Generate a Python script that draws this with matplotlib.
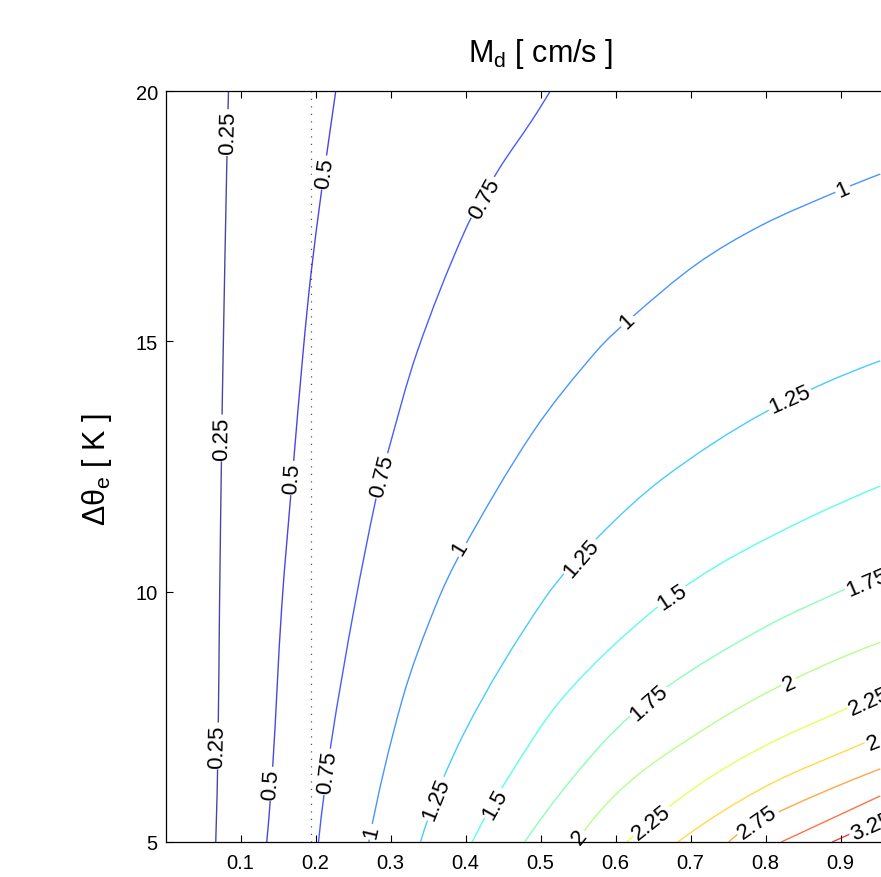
import numpy as np
import matplotlib
matplotlib.use("Agg")
import matplotlib.pyplot as plt
from matplotlib import cm
from matplotlib.colors import Normalize
from matplotlib.path import Path
from matplotlib.patches import PathPatch

plt.rcParams['font.family'] = ['Liberation Sans', 'DejaVu Sans']
plt.rcParams['mathtext.fontset'] = 'custom'
plt.rcParams['mathtext.rm'] = 'Liberation Sans'

# ── contour lines of M_d: (x, dtheta_e) per level ─────────────────────────
levels = [0.25, 0.5, 0.75, 1.0, 1.25, 1.5, 1.75, 2.0, 2.25, 2.5, 2.75, 3.0, 3.25]

x_025 = [0.067, 0.070, 0.072, 0.075, 0.077, 0.082, 0.084]
t_025 = [5.0, 6.92, 9.67, 13.07, 14.87, 18.74, 20.0]
x_050 = [0.135, 0.143, 0.155, 0.169, 0.184, 0.194, 0.208, 0.215, 0.227]
t_050 = [5.0, 6.52, 9.70, 12.27, 14.87, 16.35, 18.0, 18.74, 20.0]
x_075 = [0.204, 0.221, 0.252, 0.281, 0.297, 0.336, 0.399, 0.443, 0.488, 0.513]
t_075 = [5.0, 6.99, 9.70, 11.88, 12.81, 14.81, 17.20, 18.40, 19.40, 20.0]
x_100 = [0.271, 0.316, 0.360, 0.395, 0.491, 0.575, 0.621, 0.709, 0.795,
         0.903, 0.953]
t_100 = [5.0, 7.86, 9.71, 10.81, 13.21, 14.81, 15.47, 16.55, 17.32,
         18.04, 18.34]
x_125 = [0.340, 0.399, 0.505, 0.576, 0.665, 0.799, 0.953]
t_125 = [5.0, 7.20, 9.85, 11.08, 12.28, 13.58, 14.61]
x_150 = [0.409, 0.456, 0.532, 0.655, 0.765, 0.953]
t_150 = [5.0, 6.26, 7.92, 9.68, 10.77, 12.11]
x_175 = [0.479, 0.582, 0.665, 0.799, 0.912, 0.953]
t_175 = [5.0, 6.96, 8.06, 9.29, 10.09, 10.35]
x_200 = [0.548, 0.599, 0.665, 0.799, 0.953]
t_200 = [5.0, 5.93, 6.73, 7.96, 8.99]
x_225 = [0.615, 0.710, 0.799, 0.916, 0.953]
t_225 = [5.0, 6.13, 6.92, 7.72, 7.97]
x_250 = [0.683, 0.799, 0.935, 0.953]
t_250 = [5.0, 6.10, 7.00, 7.11]
x_275 = [0.751, 0.789, 0.953]
t_275 = [5.0, 5.40, 6.46]
x_300 = [0.821, 0.953]
t_300 = [5.0, 5.92]
x_325 = [0.889, 0.953]
t_325 = [5.0, 5.43]

lines_x = [x_025, x_050, x_075, x_100, x_125, x_150, x_175,
           x_200, x_225, x_250, x_275, x_300, x_325]
lines_t = [t_025, t_050, t_075, t_100, t_125, t_150, t_175,
           t_200, t_225, t_250, t_275, t_300, t_325]

# inline labels: (level index, x, dtheta_e)
label_lev = [0, 0, 0, 1, 1, 1, 2, 2, 2, 3, 3, 3, 3, 4, 4, 4, 5, 5, 6, 6,
             7, 7, 8, 8, 9, 10, 12]
label_x = [0.083, 0.075, 0.069, 0.212, 0.169, 0.141, 0.425, 0.289, 0.216,
           0.275, 0.392, 0.615, 0.903, 0.361, 0.555, 0.832, 0.439, 0.675,
           0.645, 0.936, 0.552, 0.832, 0.648, 0.939, 0.955, 0.789, 0.941]
label_t = [19.17, 13.07, 6.92, 18.37, 12.27, 6.16, 17.86, 12.31, 6.40,
           5.20, 10.87, 15.41, 18.04, 5.86, 10.67, 13.85, 5.76, 9.90,
           7.78, 10.19, 5.10, 8.16, 5.40, 7.82, 7.06, 5.40, 5.32]

x_ticks = [0.1, 0.2, 0.3, 0.4, 0.5, 0.6, 0.7, 0.8, 0.9, 1.0]
x_ticklabels = ["0.1", "0.2", "0.3", "0.4", "0.5", "0.6", "0.7", "0.8", "0.9", "1"]
y_ticks = [5, 10, 15, 20]
x_marker = 0.194   # dotted reference line


def fmt(v):
    return f"{v:g}"


fig = plt.figure(figsize=(8.81, 8.78), dpi=100)
fig.patch.set_facecolor("white")
ax = fig.add_axes([165.5 / 881, 35 / 878, 750 / 881, 751 / 878])
ax.set_xlim(0, 1)
ax.set_ylim(5, 20)


def smooth_path(xs, ys):
    """Smooth curve through the points (chord-length Catmull-Rom, Bezier)."""
    p = ax.transData.transform(np.column_stack([xs, ys]))
    if len(p) < 3:
        return Path(np.column_stack([xs, ys]))
    d = np.hypot(*np.diff(p, axis=0).T)
    tang = np.zeros_like(p)
    for i in range(1, len(p) - 1):
        tang[i] = (p[i + 1] - p[i - 1]) / (d[i - 1] + d[i])
    # natural-looking ends: mirror the neighbouring tangent about the chord
    tang[0] = 2 * (p[1] - p[0]) / d[0] - tang[1]
    tang[-1] = 2 * (p[-1] - p[-2]) / d[-1] - tang[-2]
    verts = [p[0]]
    codes = [Path.MOVETO]
    for i in range(len(p) - 1):
        verts += [p[i] + tang[i] * d[i] / 3, p[i + 1] - tang[i + 1] * d[i] / 3,
                  p[i + 1]]
        codes += [Path.CURVE4] * 3
    verts = ax.transData.inverted().transform(np.array(verts))
    return Path(verts, codes)


norm = Normalize(0.25, 3.5)
for lev, xs, ts in zip(levels, lines_x, lines_t):
    ax.add_patch(PathPatch(smooth_path(xs, ts), fill=False,
                           edgecolor=cm.jet(norm(lev)), alpha=0.72,
                           lw=1.0, zorder=2))

ax.axvline(x_marker, color="#555555", lw=0.9, ls=(0, (1.0, 5.0)), zorder=1.5)


def line_angle(xs, ys, x0, y0):
    """Direction of the line (display coords) nearest to (x0, y0)."""
    pts = ax.transData.transform(np.column_stack([xs, ys]))
    p = ax.transData.transform((x0, y0))
    best, ang = None, 0.0
    for a, b in zip(pts[:-1], pts[1:]):
        d = b - a
        s = np.clip(np.dot(p - a, d) / np.dot(d, d), 0, 1)
        dist = np.hypot(*(a + s * d - p))
        if best is None or dist < best:
            best = dist
            ang = np.degrees(np.arctan2(d[1], d[0]))
    if ang > 90:
        ang -= 180
    if ang < -90:
        ang += 180
    return ang


for i, lx, lt in zip(label_lev, label_x, label_t):
    rot = line_angle(lines_x[i], lines_t[i], lx, lt)
    ax.text(lx, lt, fmt(levels[i]), rotation=rot, rotation_mode="anchor",
            ha="center", va="center", fontsize=16, color="black", zorder=2.3,
            bbox=dict(boxstyle="square,pad=0.08", fc="white", ec="none"))

ax.set_xticks(x_ticks)
ax.set_xticklabels(x_ticklabels)
ax.set_yticks(y_ticks)
ax.tick_params(direction="in", length=5, width=0.8, top=True, right=True,
               labelsize=14.5, colors="black")
ax.tick_params(axis="x", pad=8)
ax.tick_params(axis="y", pad=5.5)
for sp in ax.spines.values():
    sp.set_linewidth(0.9)
    sp.set_color("black")
    sp.set_zorder(3)

fig.text(541 / 881, 1 - 62 / 878, r"M$_\mathregular{d}$ [ cm/s ]",
         ha="center", va="baseline", fontsize=22)
fig.text(97 / 881, 1 - 470 / 878, r"Δθ$_\mathregular{e}$ [ K ]",
         ha="center", va="center", rotation=90, fontsize=22)
fig.text(530 / 881, 1 - 871 / 878, "χ", ha="center", va="top", fontsize=22)

fig.savefig("out.png", dpi=100, facecolor="white")
